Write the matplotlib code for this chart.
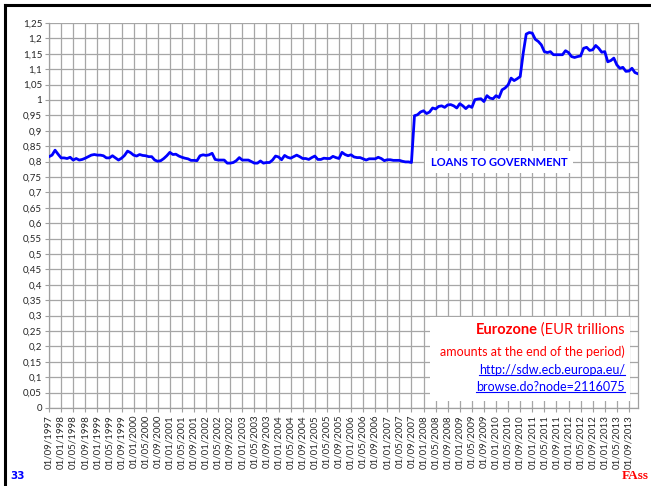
import matplotlib
matplotlib.use("Agg")
import matplotlib.pyplot as plt
from matplotlib.lines import Line2D
from matplotlib.patches import Rectangle
from matplotlib.ticker import FuncFormatter, MultipleLocator
import pandas as pd

plt.rcParams['font.family'] = ['Lato', 'DejaVu Sans']

# monthly, 09/1997 .. 12/2013, EUR trillions
start_month = "1997-09-01"
loans_1997_2005 = [
    0.816, 0.821, 0.837, 0.824, 0.812, 0.812, 0.81, 0.814, 0.805, 0.81,
    0.805, 0.807, 0.811, 0.816, 0.821, 0.823, 0.821, 0.821, 0.819, 0.812,
    0.812, 0.819, 0.812, 0.805, 0.811, 0.82, 0.834, 0.829, 0.821, 0.818,
    0.823, 0.82, 0.819, 0.816, 0.816, 0.805, 0.801, 0.803, 0.81, 0.819,
    0.83, 0.823, 0.824, 0.818, 0.814, 0.811, 0.809, 0.804, 0.804, 0.803,
    0.819, 0.822, 0.82, 0.822, 0.827, 0.807, 0.805, 0.805, 0.805, 0.795,
    0.795, 0.797, 0.803, 0.813, 0.805, 0.805, 0.805, 0.8, 0.795, 0.795,
    0.802, 0.795, 0.797, 0.797, 0.805, 0.818, 0.815, 0.806, 0.82, 0.814,
    0.811, 0.816, 0.821, 0.816, 0.81, 0.81, 0.807, 0.813, 0.818, 0.807,
    0.807, 0.811, 0.81, 0.81,
]
loans_2005_2007 = [
    0.817, 0.813, 0.81, 0.83, 0.823, 0.819, 0.822, 0.815, 0.813, 0.813,
    0.809, 0.805, 0.809, 0.809, 0.809, 0.814, 0.81, 0.803, 0.806, 0.806,
    0.804, 0.804, 0.804, 0.801, 0.799, 0.799, 0.797,
]
loans_2007_2013 = [
    0.949, 0.952, 0.961, 0.965, 0.956, 0.961, 0.974, 0.971, 0.979, 0.981,
    0.976, 0.984, 0.985, 0.981, 0.974, 0.988, 0.981, 0.972, 0.981, 0.976,
    1.001, 1.003, 1.004, 0.995, 1.014, 1.006, 1.004, 1.014, 1.008, 1.033,
    1.039, 1.049, 1.071, 1.063, 1.069, 1.076, 1.152, 1.214, 1.219, 1.217,
    1.197, 1.19, 1.179, 1.157, 1.154, 1.157, 1.147, 1.147, 1.147, 1.147,
    1.16, 1.154, 1.141, 1.138, 1.141, 1.143, 1.168, 1.171, 1.161, 1.163,
    1.177, 1.168, 1.155, 1.157, 1.124, 1.128, 1.136, 1.114, 1.103, 1.106,
    1.093, 1.094, 1.103, 1.089, 1.085,
]
loans = loans_1997_2005 + loans_2005_2007 + loans_2007_2013
months = pd.date_range(start_month, periods=len(loans), freq="MS")
month_labels = [m.strftime("%d/%m/%Y") for m in months]

series_label = "LOANS TO GOVERNMENT"
box_title = "Eurozone"
box_unit = " (EUR trillions"
box_note = "amounts at the end of the period)"
box_links = ["http://sdw.ecb.europa.eu/", "browse.do?node=2116075"]
page_no = "33"
author = "FAss"

fig = plt.figure(figsize=(6.51, 4.86), dpi=100)
ax = fig.add_axes([0.0753, 0.1605, 0.9047, 0.7922])

x = list(range(len(loans)))
ax.plot(x, loans, color="#0000ff", lw=2.0, zorder=3, solid_joinstyle="round")

ax.set_xlim(0, len(loans) - 1)
ax.set_ylim(0, 1.25)
ax.yaxis.set_major_locator(MultipleLocator(0.05))
ax.yaxis.set_major_formatter(FuncFormatter(lambda v, p: ("%g" % round(v, 2)).replace(".", ",")))
ax.set_xticks(x[::4])
ax.set_xticklabels(month_labels[::4], rotation=90)
ax.tick_params(axis="both", labelsize=7, colors="#262626", length=3, width=0.8,
               color="#a0a0a0", pad=2)
ax.set_axisbelow(True)
ax.grid(True, color="#a6a6a6", lw=0.9)
for s in ax.spines.values():
    s.set_color("#a0a0a0")
    s.set_linewidth(0.9)
ax.spines["top"].set_visible(False)

# label of the series
ax.text(0.648, 0.638, series_label, transform=ax.transAxes, ha="left", va="center",
        fontsize=8, fontweight="bold", color="#0000ff", zorder=4,
        bbox=dict(facecolor="white", edgecolor="none", pad=4))

# source box
ax.add_patch(Rectangle((0.647, 0.018), 0.339, 0.218, transform=ax.transAxes,
                       facecolor="white", edgecolor="none", zorder=2))
t_unit = ax.text(0.978, 0.203, box_unit, transform=ax.transAxes, ha="right", va="center",
                 fontsize=10.5, color="#ff0000", zorder=4)
ax.annotate(box_title, xy=(0, 0.5), xycoords=t_unit, ha="right", va="center",
            fontsize=10.5, fontweight="bold", color="#ff0000", zorder=4)
ax.text(0.978, 0.146, box_note, transform=ax.transAxes, ha="right", va="center",
        fontsize=9, color="#ff0000", zorder=4)
link_texts = []
for i, s in enumerate(box_links):
    link_texts.append(ax.text(0.978, 0.099 - i * 0.044, s, transform=ax.transAxes,
                              ha="right", va="center", fontsize=9, color="#0000ff", zorder=4))

# slide frame and footer
fig.add_artist(Line2D([0.008, 1.0], [0.99, 0.99], color="black", lw=2.2))
fig.add_artist(Line2D([0.008, 0.008], [0.0, 0.99], color="black", lw=2.2))
fig.text(0.016, 0.015, page_no, fontsize=7.5, fontweight="bold", color="#0000ff",
         family="DejaVu Sans")
fig.text(0.996, 0.015, author, fontsize=9.5, fontweight="bold", color="#ff0000",
         family="Liberation Serif", ha="right")

# underline links
fig.canvas.draw()
inv = fig.transFigure.inverted()
for t in link_texts:
    bb = t.get_window_extent()
    (x0, y0), (x1, _) = inv.transform([(bb.x0, bb.y0 + 1), (bb.x1, bb.y0 + 1)])
    fig.add_artist(Line2D([x0, x1], [y0, y0], color="#0000ff", lw=0.8))

fig.savefig("out.png", dpi=100)
